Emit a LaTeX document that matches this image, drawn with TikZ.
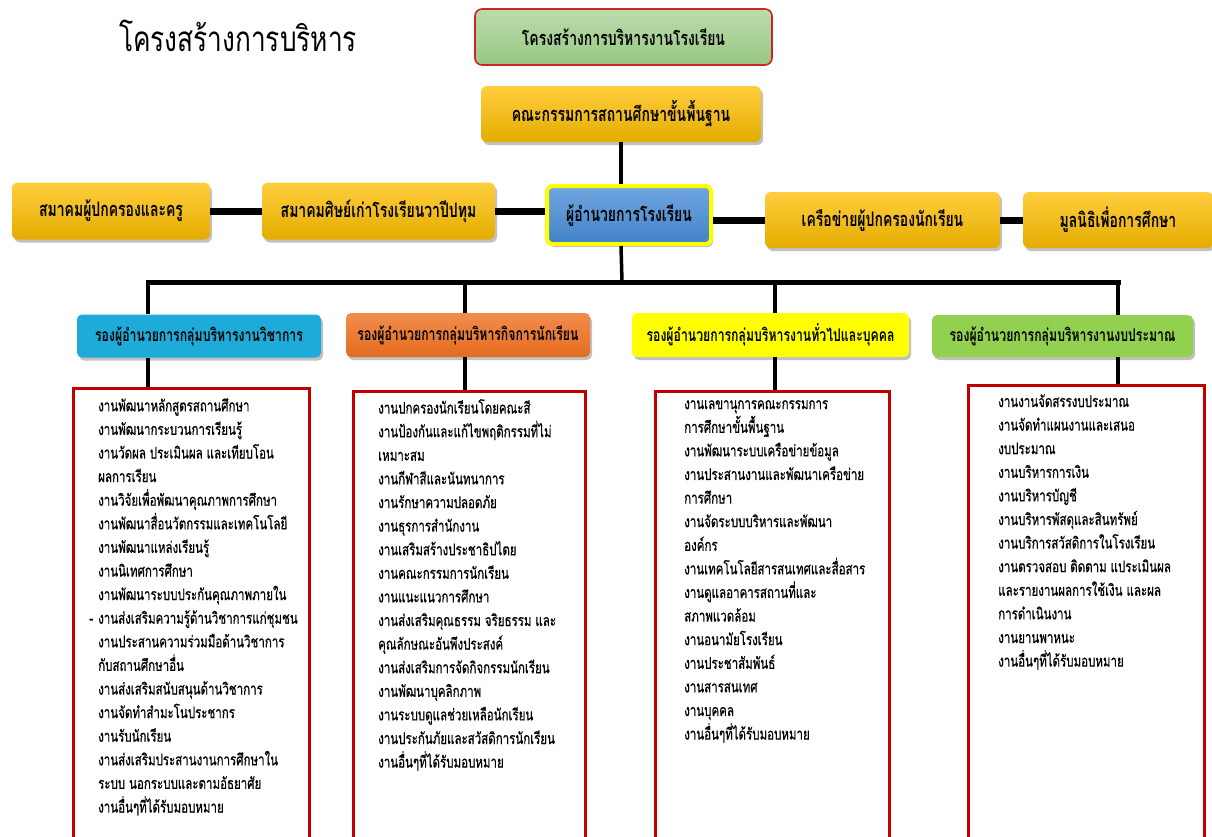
\documentclass[tikz,border=0pt]{standalone}
\usepackage{fontspec}
\usetikzlibrary{shadows}
\newfontfamily\thaiT[Script=Thai,FakeStretch=0.75]{Loma}
\newfontfamily\thaiH[Script=Thai,FakeStretch=0.7]{Loma}
\newfontfamily\thaiL[Script=Thai,FakeStretch=0.72,FakeBold=0.6]{Loma}
\definecolor{goldT}{RGB}{255,206,62}
\definecolor{goldB}{RGB}{228,172,0}
\definecolor{grnT}{RGB}{186,220,172}
\definecolor{grnB}{RGB}{152,199,132}
\definecolor{redline}{RGB}{192,0,0}
\definecolor{blueT}{RGB}{112,166,224}
\definecolor{blueB}{RGB}{66,130,200}
\definecolor{cyanH}{RGB}{31,171,217}
\definecolor{orgT}{RGB}{242,140,78}
\definecolor{orgB}{RGB}{228,108,30}
\definecolor{yelH}{RGB}{255,255,0}
\definecolor{grnH}{RGB}{146,208,80}
\begin{document}
\begin{tikzpicture}[x=1pt,y=-1pt,
  shad/.style={drop shadow={shadow xshift=2pt,shadow yshift=-3pt,opacity=.35,fill=black!70}},
  goldbox/.style={rounded corners=6pt,top color=goldT,bottom color=goldB,shad,
     font=\thaiH\bfseries\fontsize{20}{22}\selectfont,inner sep=0pt},
  greenbox/.style={rounded corners=7pt,top color=grnT,bottom color=grnB,draw=redline!85,line width=1.6pt,
     font=\thaiH\bfseries\fontsize{20}{22}\selectfont,inner sep=0pt},
  dirbox/.style={rounded corners=5pt,top color=blueT,bottom color=blueB,draw=yelH,line width=4pt,shad,
     font=\thaiH\bfseries\fontsize{20}{22}\selectfont,inner sep=0pt},
  headbox/.style={rounded corners=5pt,shad,font=\thaiH\bfseries\fontsize{17.5}{20}\selectfont,inner sep=0pt},
  redbox/.style={draw=redline,line width=3pt,fill=white,inner sep=0pt},
  listtext/.style={font=\thaiL\fontsize{16}{23.6}\selectfont,align=left,inner sep=0pt},
  conn/.style={line width=3.5pt,black},
  thickconn/.style={line width=7pt,black},
  barline/.style={line width=5pt,black}
]
\useasboundingbox (0,0) rectangle (1212,836);
\clip (0,0) rectangle (1212,836);

% title and top boxes
\node[font=\thaiT\fontsize{35}{38}\selectfont,inner sep=0pt] (title) at (238,36) {โครงสร้างการบริหาร};
\node[greenbox,minimum width=297,minimum height=56] (top) at (623.5,37) {โครงสร้างการบริหารงานโรงเรียน};
\node[goldbox,minimum width=280,minimum height=56] (board) at (621,114) {คณะกรรมการสถานศึกษาขั้นพื้นฐาน};
\node[dirbox,minimum width=164,minimum height=58] (dir) at (629,215) {ผู้อำนวยการโรงเรียน};
\node[goldbox,minimum width=198,minimum height=57] (pa) at (111,211) {สมาคมผู้ปกครองและครู};
\node[goldbox,minimum width=233,minimum height=57] (alum) at (378.5,211) {สมาคมศิษย์เก่าโรงเรียนวาปีปทุม};
\node[goldbox,minimum width=235,minimum height=56] (net) at (882.5,220) {เครือข่ายผู้ปกครองนักเรียน};
\node[goldbox,minimum width=190,minimum height=56] (fund) at (1118,220) {มูลนิธิเพื่อการศึกษา};

% heads
\node[headbox,fill=cyanH,minimum width=244,minimum height=43] (h1) at (199,336) {รองผู้อำนวยการกลุ่มบริหารงานวิชาการ};
\node[headbox,top color=orgT,bottom color=orgB,minimum width=244,minimum height=44] (h2) at (468,335) {รองผู้อำนวยการกลุ่มบริหารกิจการนักเรียน};
\node[headbox,fill=yelH,minimum width=277,minimum height=44] (h3) at (770.5,335) {รองผู้อำนวยการกลุ่มบริหารงานทั่วไปและบุคคล};
\node[headbox,fill=grnH,minimum width=261,minimum height=42] (h4) at (1062.5,336) {รองผู้อำนวยการกลุ่มบริหารงานงบประมาณ};

% connectors top
\draw[conn] (board.south) -- (board.south |- dir.north);
\draw[thickconn] (pa.east) -- (alum.west);
\draw[thickconn] (alum.east) -- (alum.east -| dir.west);
\draw[thickconn] (dir.east |- net.west) -- (net.west);
\draw[thickconn] (net.east) -- (fund.west);
\coordinate (hub) at (622,282);
\draw[conn] (board.south |- dir.south) -- (hub);
\coordinate (barL) at (146,282);
\coordinate (barR) at (1121,282);
\draw[barline] (barL) -- (barR);
\coordinate (d1) at (148,282);
\coordinate (d2) at (465,282);
\coordinate (d3) at (775,282);
\coordinate (d4) at (1118,282);
\draw[conn] (d1) -- (d1 |- h1.north);
\draw[conn] (d2) -- (d2 |- h2.north);
\draw[conn] (d3) -- (d3 |- h3.north);
\draw[conn] (d4) -- (d4 |- h4.north);

% red boxes
\node[redbox,anchor=north west,minimum width=236,minimum height=520] (r1) at (72,387) {};
\node[redbox,anchor=north west,minimum width=232,minimum height=520] (r2) at (352,390) {};
\node[redbox,anchor=north west,minimum width=234,minimum height=520] (r3) at (654,390) {};
\node[redbox,anchor=north west,minimum width=236,minimum height=520] (r4) at (967,384) {};
\draw[conn] (d1 |- h1.south) -- (d1 |- r1.north);
\draw[conn] (d2 |- h2.south) -- (d2 |- r2.north);
\draw[conn] (d3 |- h3.south) -- (d3 |- r3.north);
\draw[conn] (d4 |- h4.south) -- (d4 |- r4.north);

% lists
\node[listtext,anchor=north west] (l1) at (98,398) {งานพัฒนาหลักสูตรสถานศึกษา\\
งานพัฒนากระบวนการเรียนรู้\\
งานวัดผล ประเมินผล และเทียบโอน\\
ผลการเรียน\\
งานวิจัยเพื่อพัฒนาคุณภาพการศึกษา\\
งานพัฒนาสื่อนวัตกรรมและเทคโนโลยี\\
งานพัฒนาแหล่งเรียนรู้\\
งานนิเทศการศึกษา\\
งานพัฒนาระบบประกันคุณภาพภายใน\\
\llap{-\hspace{5pt}}งานส่งเสริมความรู้ด้านวิชาการแก่ชุมชน\\
งานประสานความร่วมมือด้านวิชาการ\\
กับสถานศึกษาอื่น\\
งานส่งเสริมสนับสนุนด้านวิชาการ\\
งานจัดทำสำมะโนประชากร\\
งานรับนักเรียน\\
งานส่งเสริมประสานงานการศึกษาใน\\
ระบบ นอกระบบและตามอัธยาศัย\\
งานอื่นๆที่ได้รับมอบหมาย};
\node[listtext,anchor=north west] (l2) at (378,399) {งานปกครองนักเรียนโดยคณะสี\\
งานป้องกันและแก้ไขพฤติกรรมที่ไม่\\
เหมาะสม\\
งานกีฬาสีและนันทนาการ\\
งานรักษาความปลอดภัย\\
งานธุรการสำนักงาน\\
งานเสริมสร้างประชาธิปไตย\\
งานคณะกรรมการนักเรียน\\
งานแนะแนวการศึกษา\\
งานส่งเสริมคุณธรรม จริยธรรม และ\\
คุณลักษณะอันพึงประสงค์\\
งานส่งเสริมการจัดกิจกรรมนักเรียน\\
งานพัฒนาบุคลิกภาพ\\
งานระบบดูแลช่วยเหลือนักเรียน\\
งานประกันภัยและสวัสดิการนักเรียน\\
งานอื่นๆที่ได้รับมอบหมาย};
\node[listtext,anchor=north west] (l3) at (684,400) {งานเลขานุการคณะกรรมการ\\
การศึกษาขั้นพื้นฐาน\\
งานพัฒนาระบบเครือข่ายข้อมูล\\
งานประสานงานและพัฒนาเครือข่าย\\
การศึกษา\\
งานจัดระบบบริหารและพัฒนา\\
องค์กร\\
งานเทคโนโลยีสารสนเทศและสื่อสาร\\
งานดูแลอาคารสถานที่และ\\
สภาพแวดล้อม\\
งานอนามัยโรงเรียน\\
งานประชาสัมพันธ์\\
งานสารสนเทศ\\
งานบุคคล\\
งานอื่นๆที่ได้รับมอบหมาย};
\node[listtext,anchor=north west] (l4) at (998,394) {งานงานจัดสรรงบประมาณ\\
งานจัดทำแผนงานและเสนอ\\
งบประมาณ\\
งานบริหารการเงิน\\
งานบริหารบัญชี\\
งานบริหารพัสดุและสินทรัพย์\\
งานบริการสวัสดิการในโรงเรียน\\
งานตรวจสอบ ติดตาม แประเมินผล\\
และรายงานผลการใช้เงิน และผล\\
การดำเนินงาน\\
งานยานพาหนะ\\
งานอื่นๆที่ได้รับมอบหมาย};
\end{tikzpicture}
\end{document}
